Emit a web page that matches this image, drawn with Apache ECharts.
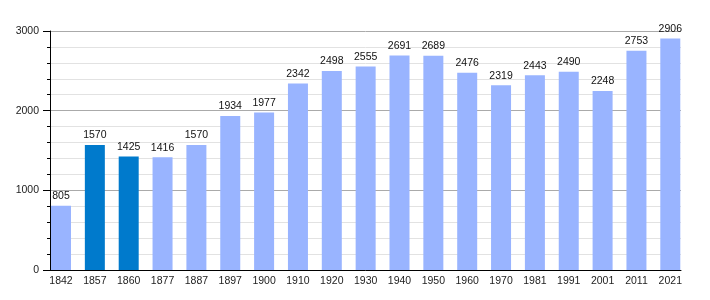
<!DOCTYPE html>
<html><head><meta charset="utf-8">
<script src="https://cdn.jsdelivr.net/npm/echarts@6/dist/echarts.min.js"></script>
<style>html,body{margin:0;padding:0;background:#fff}#c{width:710px;height:300px}</style>
</head><body><div id="c"></div>
<script>
const years = ['1842','1857','1860','1877','1887','1897','1900','1910','1920','1930','1940','1950','1960','1970','1981','1991','2001','2011','2021'];
const population = [805,1570,1425,1416,1570,1934,1977,2342,2498,2555,2691,2689,2476,2319,2443,2490,2248,2753,2906];
const highlighted = ['1857','1860'];
const yTicks = [0,1000,2000,3000];

const FONT = 'Liberation Sans';
const chart = echarts.init(document.getElementById('c'), null, {renderer:'canvas'});
chart.setOption({
  animation:false,
  backgroundColor:'#fff',
  textStyle:{fontFamily:FONT},
  grid:[
    {left:50, right:29, top:31, bottom:30},
    {left:61, right:39.7, top:31, bottom:30}
  ],
  xAxis:[
    {gridIndex:0, type:'value', min:0, max:1, axisLine:{show:true, lineStyle:{color:'#000', width:1}}, axisTick:{show:false}, axisLabel:{show:false}, splitLine:{show:false}},
    {gridIndex:1, type:'category', data:years, boundaryGap:false, axisLine:{show:false}, axisTick:{show:false},
     axisLabel:{interval:0, margin:6, color:'#222', fontSize:10.5, fontFamily:FONT}}
  ],
  yAxis:[
    {gridIndex:0, type:'value', min:yTicks[0], max:yTicks[yTicks.length-1], interval:1000,
     axisLine:{show:true, lineStyle:{color:'#000', width:1}},
     axisTick:{show:true, length:7, lineStyle:{color:'#000'}},
     minorTick:{show:true, splitNumber:5, length:3, lineStyle:{color:'#000'}},
     splitLine:{show:true, lineStyle:{color:'#aaa', width:1}},
     minorSplitLine:{show:true, lineStyle:{color:'#e2e2e2', width:1}},
     axisLabel:{margin:11, color:'#222', fontSize:10.5, fontFamily:FONT, formatter:(v)=>String(v)}},
    {gridIndex:1, type:'value', min:0, max:3000, show:false, splitLine:{show:false}}
  ],
  series:[{
    type:'bar', xAxisIndex:1, yAxisIndex:1, barWidth:20, clip:false,
    data: population.map((v,i)=>({value:v, itemStyle:{color: highlighted.includes(years[i]) ? '#007acc' : '#99b4ff'}})),
    label:{show:true, position:'top', distance:4, color:'#111', fontSize:10.5, fontFamily:FONT}
  }]
});
</script></body></html>
